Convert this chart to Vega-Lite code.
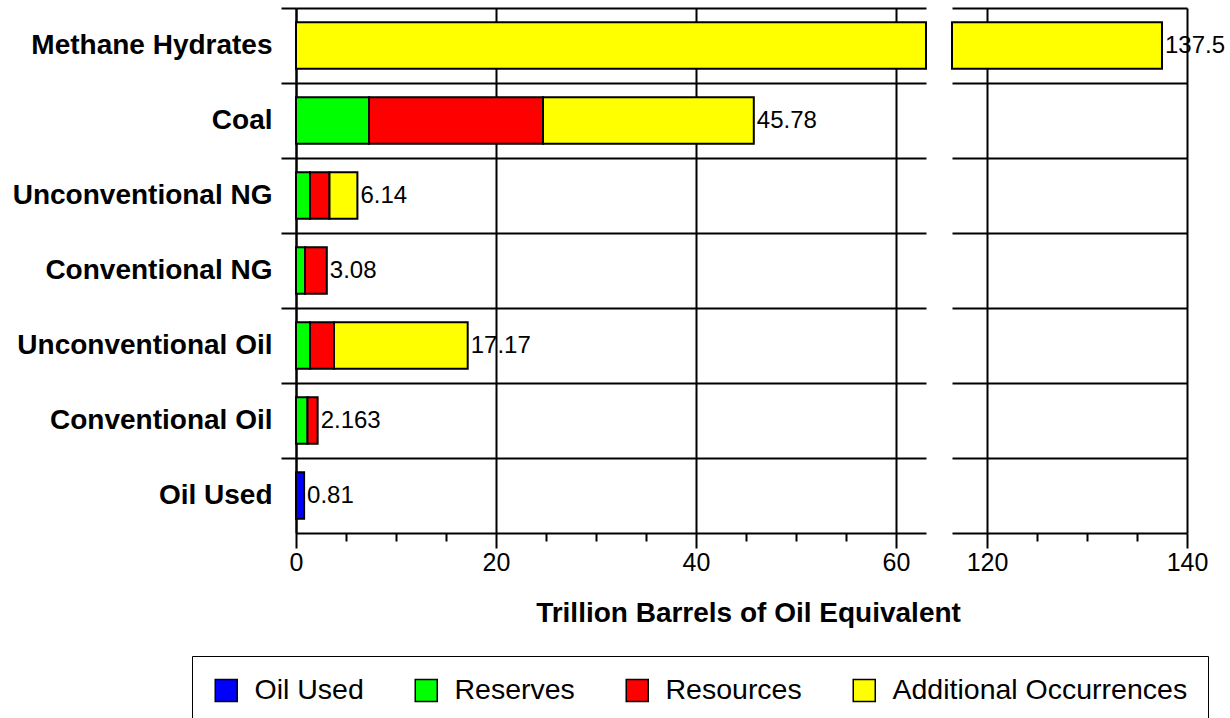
{
  "$schema": "https://vega.github.io/schema/vega-lite/v6.json",
  "padding": {"left": 12, "top": 7, "right": 4, "bottom": 0},
  "background": "white",
  "bounds": "flush",
  "config": {
    "view": {"stroke": null},
    "font": "Liberation Sans",
    "axis": {
      "domainColor": "black", "domainWidth": 2,
      "tickColor": "black", "tickWidth": 2,
      "gridColor": "black", "gridWidth": 2,
      "labelColor": "black", "labelFont": "Liberation Sans",
      "titleColor": "black", "titleFont": "Liberation Sans"
    },
    "legend": {
      "orient": "none", "legendX": -104, "legendY": 648,
      "direction": "horizontal", "columns": 4, "title": null,
      "symbolType": "square", "symbolSize": 484, "symbolStrokeColor": "black", "symbolStrokeWidth": 1.5,
      "labelFontSize": 28.5, "labelFont": "Liberation Sans", "labelColor": "black", "labelOffset": 14, "labelLimit": 0,
      "columnPadding": 48, "strokeColor": "black", "padding": 20
    }
  },
  "datasets": {
    "parts": [
      {"category": "Methane Hydrates", "component": "Additional Occurrences", "rank": 4, "value": 137.5},
      {"category": "Coal", "component": "Reserves", "rank": 2, "value": 7.3},
      {"category": "Coal", "component": "Resources", "rank": 3, "value": 17.4},
      {"category": "Coal", "component": "Additional Occurrences", "rank": 4, "value": 21.08},
      {"category": "Unconventional NG", "component": "Reserves", "rank": 2, "value": 1.4},
      {"category": "Unconventional NG", "component": "Resources", "rank": 3, "value": 1.95},
      {"category": "Unconventional NG", "component": "Additional Occurrences", "rank": 4, "value": 2.79},
      {"category": "Conventional NG", "component": "Reserves", "rank": 2, "value": 0.9},
      {"category": "Conventional NG", "component": "Resources", "rank": 3, "value": 2.18},
      {"category": "Unconventional Oil", "component": "Reserves", "rank": 2, "value": 1.4},
      {"category": "Unconventional Oil", "component": "Resources", "rank": 3, "value": 2.4},
      {"category": "Unconventional Oil", "component": "Additional Occurrences", "rank": 4, "value": 13.37},
      {"category": "Conventional Oil", "component": "Reserves", "rank": 2, "value": 1.15},
      {"category": "Conventional Oil", "component": "Resources", "rank": 3, "value": 1.013},
      {"category": "Oil Used", "component": "Oil Used", "rank": 1, "value": 0.81}
    ],
    "totals": [
      {"category": "Methane Hydrates", "total": 137.5, "label": "137.5"},
      {"category": "Coal", "total": 45.78, "label": "45.78"},
      {"category": "Unconventional NG", "total": 6.14, "label": "6.14"},
      {"category": "Conventional NG", "total": 3.08, "label": "3.08"},
      {"category": "Unconventional Oil", "total": 17.17, "label": "17.17"},
      {"category": "Conventional Oil", "total": 2.163, "label": "2.163"},
      {"category": "Oil Used", "total": 0.81, "label": "0.81"}
    ]
  },
  "spacing": 26,
  "resolve": {"scale": {"color": "shared"}, "legend": {"color": "shared"}},
  "hconcat": [
    {
      "width": 630,
      "height": 525,
      "layer": [
        {
          "data": {"name": "parts"},
          "mark": {"type": "bar", "height": {"band": 0.62}, "stroke": "black", "strokeWidth": 2},
          "encoding": {
            "y": {
              "field": "category", "type": "nominal",
              "sort": ["Methane Hydrates", "Coal", "Unconventional NG", "Conventional NG", "Unconventional Oil", "Conventional Oil", "Oil Used"],
              "scale": {"paddingInner": 0, "paddingOuter": 0},
              "axis": {"title": null, "bandPosition": 0, "tickSize": 15, "labelPadding": 9, "labelFontSize": 28, "labelFontWeight": "bold", "grid": true, "labelLimit": 0}
            },
            "x": {
              "field": "value", "type": "quantitative", "stack": "zero",
              "scale": {"domain": [0, 63], "clamp": true, "nice": false},
              "axis": {
                "values": [0, 5, 10, 15, 20, 25, 30, 35, 40, 45, 50, 55, 60],
                "title": "Trillion Barrels of Oil Equivalent",
                "titleFontSize": 28, "titleFontWeight": "bold",
                "titleX": 452, "titleY": 88, "titleAlign": "center", "titleAnchor": null, "titleBaseline": "alphabetic",
                "grid": true,
                "gridOpacity": {"condition": {"test": "datum.value % 20 === 0", "value": 1}, "value": 0},
                "tickSize": {"condition": {"test": "datum.value % 20 === 0", "value": 15}, "value": 8},
                "labelExpr": "datum.value % 20 === 0 ? datum.label : ''",
                "labelFontSize": 25, "labelPadding": 2, "labelFlush": false, "labelOverlap": false, "labelBound": false
              }
            },
            "order": {"field": "rank", "type": "quantitative"},
            "color": {
              "field": "component", "type": "nominal",
              "sort": ["Oil Used", "Reserves", "Resources", "Additional Occurrences"],
              "scale": {"domain": ["Oil Used", "Reserves", "Resources", "Additional Occurrences"], "range": ["#0000ff", "#00ff00", "#ff0000", "#ffff00"]}
            }
          }
        },
        {
          "data": {"name": "totals"},
          "transform": [{"filter": "datum.total < 63"}],
          "mark": {"type": "text", "align": "left", "baseline": "middle", "dx": 3, "fontSize": 24, "font": "Liberation Sans", "color": "black"},
          "encoding": {
            "y": {"field": "category", "type": "nominal", "sort": ["Methane Hydrates", "Coal", "Unconventional NG", "Conventional NG", "Unconventional Oil", "Conventional Oil", "Oil Used"]},
            "x": {"field": "total", "type": "quantitative", "title": "Trillion Barrels of Oil Equivalent"},
            "text": {"field": "label"}
          }
        }
      ]
    },
    {
      "width": 235,
      "height": 525,
      "layer": [
        {
          "data": {"name": "parts"},
          "transform": [{"filter": "datum.category === 'Methane Hydrates'"}],
          "mark": {"type": "bar", "height": {"band": 0.62}, "stroke": "black", "strokeWidth": 2},
          "encoding": {
            "y": {
              "field": "category", "type": "nominal",
              "sort": ["Methane Hydrates", "Coal", "Unconventional NG", "Conventional NG", "Unconventional Oil", "Conventional Oil", "Oil Used"],
              "scale": {"domain": ["Methane Hydrates", "Coal", "Unconventional NG", "Conventional NG", "Unconventional Oil", "Conventional Oil", "Oil Used"], "paddingInner": 0, "paddingOuter": 0},
              "axis": {"title": null, "bandPosition": 0, "labels": false, "ticks": false, "domain": false, "grid": true, "minExtent": 0, "maxExtent": 0}
            },
            "x": {
              "field": "value", "type": "quantitative", "stack": "zero",
              "scale": {"domain": [116.5, 140], "clamp": true, "nice": false, "zero": false},
              "axis": {
                "values": [120, 125, 130, 135, 140],
                "title": null,
                "grid": true,
                "gridOpacity": {"condition": {"test": "datum.value % 20 === 0", "value": 1}, "value": 0},
                "tickSize": {"condition": {"test": "datum.value % 20 === 0", "value": 15}, "value": 8},
                "labelExpr": "datum.value % 20 === 0 ? datum.label : ''",
                "labelFontSize": 25, "labelPadding": 2, "labelFlush": false, "labelOverlap": false, "labelBound": false
              }
            },
            "order": {"field": "rank", "type": "quantitative"},
            "color": {
              "field": "component", "type": "nominal",
              "sort": ["Oil Used", "Reserves", "Resources", "Additional Occurrences"],
              "scale": {"domain": ["Oil Used", "Reserves", "Resources", "Additional Occurrences"], "range": ["#0000ff", "#00ff00", "#ff0000", "#ffff00"]}
            }
          }
        },
        {
          "data": {"name": "totals"},
          "transform": [{"filter": "datum.category === 'Methane Hydrates'"}],
          "mark": {"type": "text", "align": "left", "baseline": "middle", "dx": 3, "fontSize": 24, "font": "Liberation Sans", "color": "black"},
          "encoding": {
            "y": {"field": "category", "type": "nominal", "sort": ["Methane Hydrates", "Coal", "Unconventional NG", "Conventional NG", "Unconventional Oil", "Conventional Oil", "Oil Used"]},
            "x": {"field": "total", "type": "quantitative"},
            "text": {"field": "label"}
          }
        }
      ]
    }
  ]
}
